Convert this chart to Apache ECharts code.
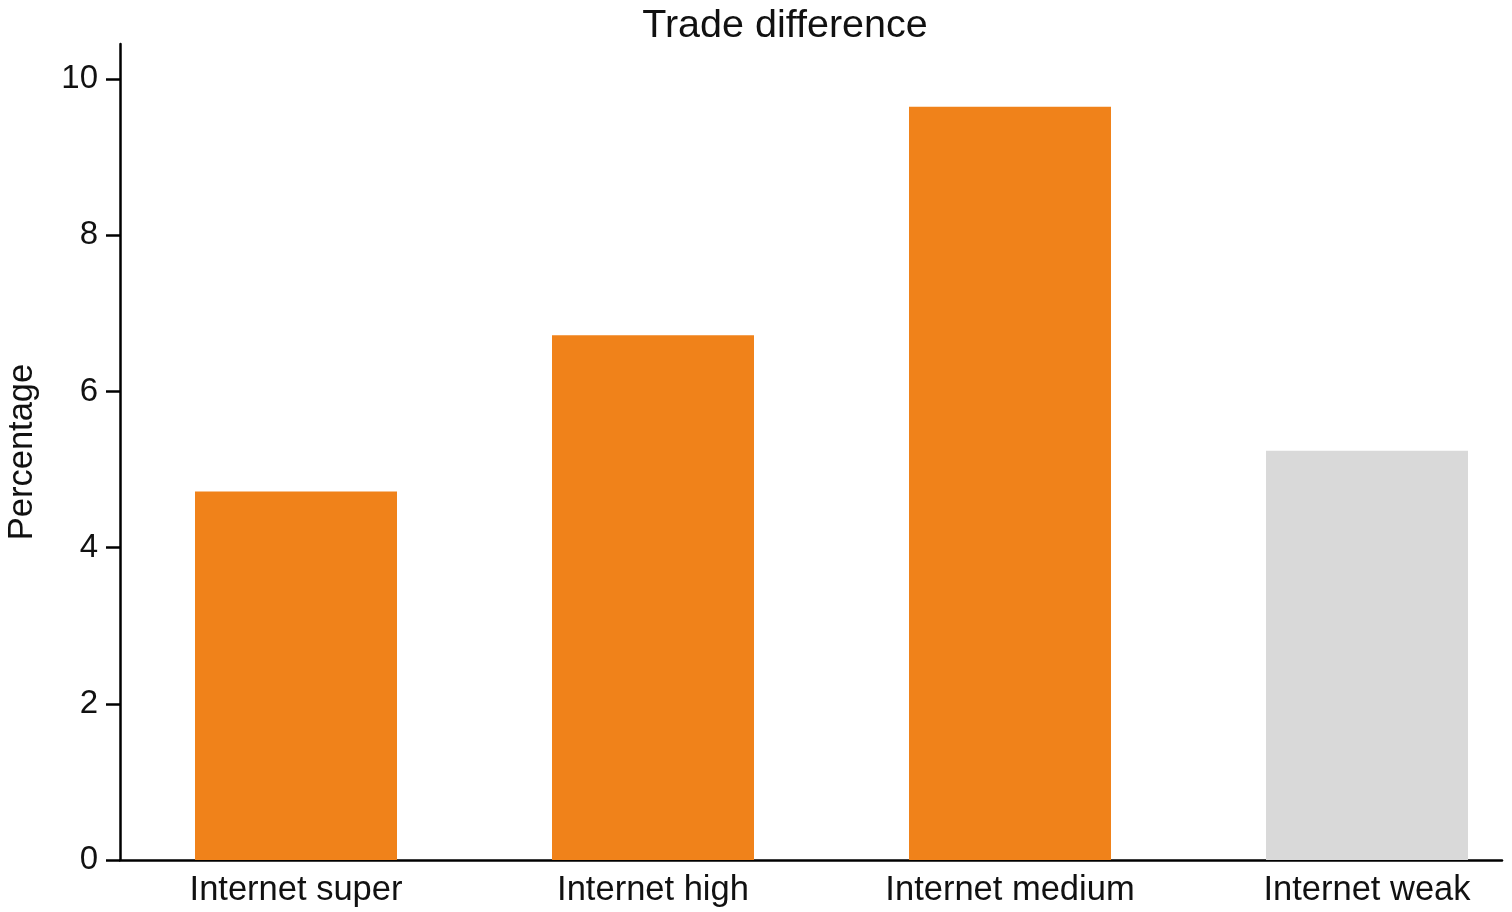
<!DOCTYPE html>
<html>
<head>
<meta charset="utf-8">
<script src="https://cdn.jsdelivr.net/npm/echarts@6/dist/echarts.min.js"></script>
<style>html,body{margin:0;padding:0;background:#fff}#c{width:1512px;height:912px}</style>
</head>
<body>
<div id="c"></div>
<script>
const categories = ['Internet super', 'Internet high', 'Internet medium', 'Internet weak'];
const values = [4.72, 6.72, 9.645, 5.24];
const barColors = ['#F0821A', '#F0821A', '#F0821A', '#D9D9D9'];
const yTicks = [0, 2, 4, 6, 8, 10];
const yMax = 10.45;

const font = 'Liberation Sans, Arial, Helvetica, sans-serif';
const chart = echarts.init(document.getElementById('c'));
chart.setOption({
  animation: false,
  backgroundColor: '#fff',
  title: {
    text: 'Trade difference',
    left: 780, top: 1, textAlign: 'center',
    textStyle: { fontFamily: font, fontSize: 39.5, fontWeight: 'normal', color: '#111' }
  },
  grid: [
    { left: 117.5, width: 1428, top: 44, bottom: 52, containLabel: false, outerBoundsMode: 'none' },
    { left: 120, right: 10, top: 44, bottom: 52, containLabel: false, outerBoundsMode: 'none' }
  ],
  xAxis: [
    {
      type: 'category', gridIndex: 0, data: categories,
      axisLine: { show: false }, axisTick: { show: false }, splitLine: { show: false },
      axisLabel: { fontFamily: font, fontSize: 34.5, color: '#111', margin: 13 }
    },
    {
      type: 'value', gridIndex: 1, min: 0, max: 1,
      axisLine: { show: true, onZero: false, lineStyle: { color: '#000', width: 2.5 } },
      axisTick: { show: false }, axisLabel: { show: false }, splitLine: { show: false }
    }
  ],
  yAxis: [
    {
      type: 'value', gridIndex: 0, min: 0, max: yMax, show: false, splitLine: { show: false }
    },
    {
      type: 'value', gridIndex: 1, min: 0, max: yMax,
      name: 'Percentage',
      nameLocation: 'middle',
      nameGap: 80,
      nameTextStyle: { fontFamily: font, fontSize: 34.5, color: '#111' },
      splitLine: { show: false },
      axisLine: { show: true, onZero: false, lineStyle: { color: '#000', width: 2.5 } },
      axisTick: { show: true, length: 14, lineStyle: { color: '#000', width: 2.5 }, customValues: yTicks },
      axisLabel: { customValues: yTicks, fontFamily: font, fontSize: 33, color: '#111', margin: 22 }
    }
  ],
  series: [{
    type: 'bar',
    xAxisIndex: 0, yAxisIndex: 0,
    barWidth: 202,
    data: values.map((v, i) => ({ value: v, itemStyle: { color: barColors[i] } }))
  }]
});
</script>
</body>
</html>
